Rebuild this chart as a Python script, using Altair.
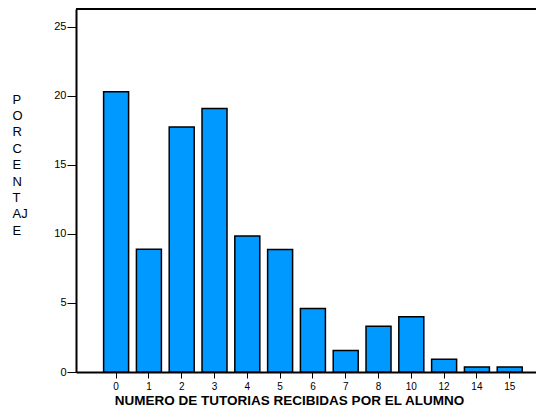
import altair as alt
import pandas as pd

categorias = ["0", "1", "2", "3", "4", "5", "6", "7", "8", "10", "12", "14", "15"]
porcentajes = [20.3, 8.9, 17.75, 19.1, 9.86, 8.87, 4.6, 1.55, 3.32, 4.0, 0.92, 0.36, 0.36]
y_ticks = [0, 5, 10, 15, 20, 25]
y_title = ["P", "O", "R", "C", "E", "N", "T", "AJ", "E"]
x_title = "NUMERO DE TUTORIAS RECIBIDAS POR EL ALUMNO"

df = pd.DataFrame({"cat": categorias, "pct": porcentajes})

W, H = 460, 363
FONT = "Liberation Sans"

bars = alt.Chart(df).mark_bar(
    color="#0099ff", stroke="black", strokeWidth=1.5
).encode(
    x=alt.X(
        "cat:N",
        sort=categorias,
        scale=alt.Scale(paddingInner=0.238, paddingOuter=0.631, align=0.667),
        axis=alt.Axis(
            title=x_title,
            labelAngle=0,
            labelFont=FONT,
            labelFontSize=10,
            labelColor="black",
            labelPadding=3,
            tickSize=6,
            tickColor="black",
            tickWidth=1,
            domainColor="black",
            domainWidth=2,
            titleFont=FONT,
            titleFontSize=13.5,
            titleFontWeight="bold",
            titleColor="black",
            titleAnchor="start",
            titleAlign="center",
            titleBaseline="alphabetic",
            titleX=213,
            titleY=32,
        ),
    ),
    y=alt.Y(
        "pct:Q",
        scale=alt.Scale(domain=[0, 26.3], nice=False),
        axis=alt.Axis(
            values=y_ticks,
            grid=False,
            title=y_title,
            titleAngle=0,
            titleAlign="left",
            titleBaseline="top",
            titleX=-64,
            titleY=84,
            titleLineHeight=16.4,
            titleFont=FONT,
            titleFontSize=13,
            titleFontWeight="normal",
            titleColor="black",
            labelFont=FONT,
            labelFontSize=11,
            labelColor="black",
            labelPadding=1,
            tickSize=9,
            tickColor="black",
            tickWidth=1,
            domainColor="black",
            domainWidth=2,
        ),
    ),
)

top_line = alt.Chart(df).mark_rule(color="black", strokeWidth=2).encode(
    x=alt.value(0), x2=alt.value(W), y=alt.value(0)
)

chart = alt.layer(bars, top_line).properties(
    width=W,
    height=H,
    autosize=alt.AutoSizeParams(type="none"),
    padding={"left": 68, "top": 1, "right": 0, "bottom": 36},
).configure_view(stroke=None).configure(background="white")

chart.save("out.html", embed_options={"renderer": "svg", "actions": False})
